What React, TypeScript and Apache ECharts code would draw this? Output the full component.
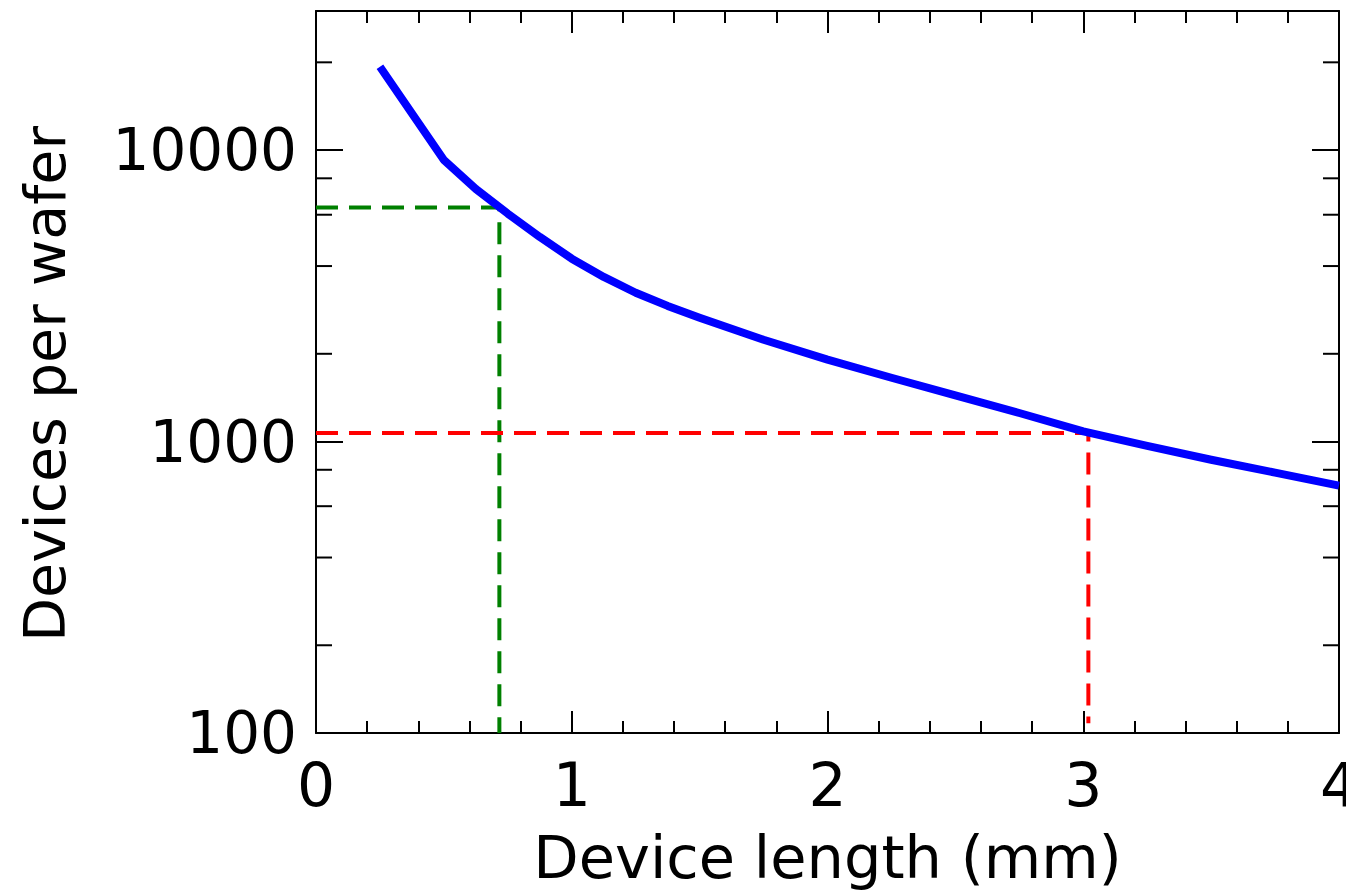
import React, { useEffect, useRef } from "react";
import * as echarts from "echarts";

// Device length (mm)
const lengths = [
  0.25, 0.5, 0.625, 0.75, 0.875, 1.0, 1.125, 1.25, 1.375, 1.5, 1.75, 2.0,
  2.25, 2.5, 2.75, 3.0, 3.25, 3.5, 3.75, 4.0,
];
// Devices per wafer
const devices = [
  19300, 9250, 7350, 6050, 5035, 4240, 3670, 3240, 2920, 2660, 2235, 1910,
  1655, 1440, 1253, 1084, 966, 866, 782, 706,
];

// Highlighted operating points
const greenPoint = { x: 0.717, y: 6350 };
const redPoint = { x: 3.02, y: 1070, yEnd: 108 };

const yMajorLabels = [100, 1000, 10000];
const yMinorTicks = [200, 400, 600, 800, 2000, 4000, 6000, 8000, 20000];

const FONT = "DejaVu Sans";

export default function App() {
  const ref = useRef<HTMLDivElement>(null);

  useEffect(() => {
    if (!ref.current) return;
    const chart = echarts.init(ref.current, undefined, { renderer: "svg" });
    const axisLineStyle = { color: "#000", width: 2 };
    const xBase = {
      type: "value" as const,
      min: 0,
      max: 4,
      interval: 1,
      splitLine: { show: false },
      axisLine: { show: true, onZero: false, lineStyle: axisLineStyle },
      axisTick: { show: true, inside: true, length: 22, lineStyle: axisLineStyle },
      minorTick: { show: true, splitNumber: 5, length: 12, lineStyle: axisLineStyle },
      minorSplitLine: { show: false },
    };
    const yBase = {
      type: "log" as const,
      logBase: 10,
      min: 100,
      max: 30000,
      splitLine: { show: false },
      axisLine: { show: true, onZero: false, lineStyle: axisLineStyle },
      axisTick: { show: true, inside: true, length: 27, lineStyle: axisLineStyle },
    };
    chart.setOption({
      animation: false,
      backgroundColor: "#fff",
      grid: { left: 316, top: 11, right: 7, bottom: 162, containLabel: false, outerBoundsMode: "none" },
      xAxis: [
        {
          ...xBase,
          position: "bottom",
          name: "Device length (mm)",
          nameLocation: "middle",
          nameGap: 95,
          nameTextStyle: { fontFamily: FONT, fontSize: 59, color: "#000" },
          axisLabel: { show: true, margin: 22, fontFamily: FONT, fontSize: 60, color: "#000" },
        },
        { ...xBase, position: "top", axisLabel: { show: false } },
      ],
      yAxis: [
        {
          ...yBase,
          position: "left",
          axisLabel: {
            show: true,
            margin: 19,
            fontFamily: FONT,
            fontSize: 58,
            color: "#000",
            showMaxLabel: false,
            formatter: (v: number) => {
              const r = Math.round(v);
              return yMajorLabels.includes(r) ? String(r) : "";
            },
          },
        },
        { ...yBase, position: "right", axisLabel: { show: false } },
      ],
      graphic: [
        {
          type: "text",
          x: 45,
          y: 384,
          rotation: Math.PI / 2,
          style: {
            text: "Devices per wafer",
            fontFamily: FONT,
            fontSize: 57,
            fill: "#000",
            align: "center",
            verticalAlign: "middle",
          },
        },
      ],
      series: [
        {
          type: "line",
          xAxisIndex: 0,
          yAxisIndex: 0,
          symbol: "none",
          silent: true,
          z: 2,
          lineStyle: { color: "#008000", width: 4, type: [22, 11] },
          data: [
            [0, greenPoint.y],
            [greenPoint.x, greenPoint.y],
            [greenPoint.x, 100],
          ],
        },
        {
          type: "line",
          xAxisIndex: 0,
          yAxisIndex: 0,
          symbol: "none",
          silent: true,
          z: 2,
          lineStyle: { color: "#ff0000", width: 4, type: [22, 11] },
          data: [
            [0, redPoint.y],
            [redPoint.x, redPoint.y],
            [redPoint.x, redPoint.yEnd],
          ],
        },
        {
          type: "line",
          xAxisIndex: 0,
          yAxisIndex: 0,
          symbol: "none",
          silent: true,
          z: 3,
          lineStyle: { color: "#0000ff", width: 8, join: "round" },
          data: lengths.map((x, i) => [x, devices[i]]),
        },
        {
          type: "custom",
          xAxisIndex: 0,
          yAxisIndex: 0,
          silent: true,
          z: 5,
          clip: false,
          renderItem: (params: any, api: any) => {
            const p = api.coord([api.value(0), api.value(1)]);
            const cs = params.coordSys;
            const left = cs.x;
            const right = cs.x + cs.width;
            return {
              type: "group",
              children: [
                { type: "line", shape: { x1: left, y1: p[1], x2: left + 16, y2: p[1] }, style: { stroke: "#000", lineWidth: 2 } },
                { type: "line", shape: { x1: right - 16, y1: p[1], x2: right, y2: p[1] }, style: { stroke: "#000", lineWidth: 2 } },
              ],
            };
          },
          encode: { x: 0, y: 1 },
          data: yMinorTicks.map((v) => [0, v]),
        },
      ],
    });
    return () => chart.dispose();
  }, []);

  return (
    <div
      ref={ref}
      style={{ position: "absolute", left: 0, top: 0, width: "1346px", height: "895px" }}
    />
  );
}
